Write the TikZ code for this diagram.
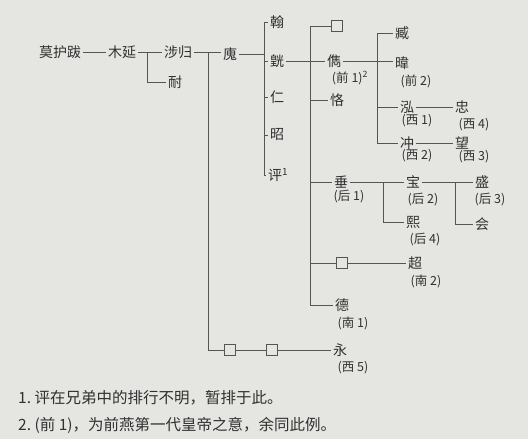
\documentclass[tikz,border=0pt]{standalone}
\usepackage{fontspec}
\setmainfont{Noto Sans CJK SC}
\definecolor{paper}{RGB}{229,229,226}
\definecolor{ink}{RGB}{48,48,48}
\definecolor{rule}{RGB}{85,85,85}
\begin{document}
\begin{tikzpicture}[x=1pt,y=-1pt,
    kin/.style={font=\fontsize{14}{14}\selectfont,text=ink,inner sep=1.5pt},
    reign/.style={font=\fontsize{12.5}{12.5}\selectfont,text=ink,inner sep=0pt},
    blank/.style={draw=rule,line width=0.7pt,minimum size=11pt,inner sep=0pt},
    link/.style={draw=rule,line width=0.7pt},
    foot/.style={font=\fontsize{15.5}{16}\selectfont,text=ink,anchor=west,inner sep=0pt}]
    \fill[paper] (0,0) rectangle (528,439);
    \useasboundingbox (0,0) rectangle (528,439);

    \node[kin] (mhb) at (60,52) {莫护跋};
    \node[kin] (muyan) at (122,52) {木延};
    \node[kin] (shegui) at (178,52) {涉归};
    \node[kin] (nai) at (175,82) {耐};
    \node[kin] (hui) at (230,54) {廆};
    \node[kin] (han) at (277,22) {翰};
    \node[kin] (huang) at (277,61) {皝};
    \node[kin] (ren) at (277,97) {仁};
    \node[kin] (zhao) at (277,135) {昭};
    \node[kin] (ping) at (278,175) {评\textsuperscript{1}};

    \node[blank] (b1) at (337,26) {};
    \node[kin] (jun) at (334,61) {儁};
    \node[reign] (junr) at (350,78) {(前 1)\textsuperscript{2}};
    \node[kin] (ke) at (337,100) {恪};
    \node[kin] (chui) at (341,182) {垂};
    \node[reign] (chuir) at (349,197) {(后 1)};
    \node[blank] (b2) at (342,263) {};
    \node[kin] (de) at (342,305) {德};
    \node[reign] (der) at (353,323) {(南 1)};

    \node[kin] (zang) at (402,33) {臧};
    \node[kin] (wei) at (402,63) {暐};
    \node[reign] (weir) at (416,81) {(前 2)};
    \node[kin] (hong) at (407,107) {泓};
    \node[reign] (hongr) at (417,121) {(西 1)};
    \node[kin] (chong) at (407,143) {冲};
    \node[reign] (chongr) at (417,156) {(西 2)};
    \node[kin] (zhong) at (462,107) {忠};
    \node[reign] (zhongr) at (474,125) {(西 4)};
    \node[kin] (wang) at (462,143) {望};
    \node[reign] (wangr) at (474,157) {(西 3)};

    \node[kin] (bao) at (413,182) {宝};
    \node[reign] (baor) at (423,200) {(后 2)};
    \node[kin] (xi) at (413,222) {熙};
    \node[reign] (xir) at (425,240) {(后 4)};
    \node[kin] (sheng) at (482,182) {盛};
    \node[reign] (shengr) at (490,200) {(后 3)};
    \node[kin] (hz) at (482,224) {会};
    \node[kin] (chao) at (415,263) {超};
    \node[reign] (chaor) at (426,281) {(南 2)};

    \node[blank] (b3) at (230,350) {};
    \node[blank] (b4) at (272,350) {};
    \node[kin] (yong) at (340,350) {永};
    \node[reign] (yongr) at (353,368) {(西 5)};

    \coordinate (v1) at (147,0);
    \coordinate (v2) at (208,0);
    \coordinate (v3) at (264,0);
    \coordinate (v4) at (310,0);
    \coordinate (v5) at (377,0);
    \coordinate (v6) at (383,0);
    \coordinate (v7) at (455,0);

    \draw[link] (mhb) -- (muyan);
    \draw[link] (muyan) -- (shegui);
    \draw[link] (v1 |- muyan) |- (nai);
    \draw[link] (shegui.east) -- (shegui.east -| hui.west);
    \draw[link] (v2 |- shegui) |- (b3);
    \draw[link] (b3) -- (b4);
    \draw[link] (b4) -- (yong);

    \draw[link] (hui) -- (v3 |- hui);
    \draw[link] (v3 |- han) -- (v3 |- ping);
    \draw[link] (v3 |- han) -- (han);
    \draw[link] (v3 |- huang) -- (huang);
    \draw[link] (v3 |- ren) -- (ren);
    \draw[link] (v3 |- zhao) -- (zhao);
    \draw[link] (v3 |- ping) -- (ping);

    \draw[link] (huang) -- (jun);
    \draw[link] (v4 |- b1) -- (v4 |- de);
    \draw[link] (v4 |- b1) -- (b1);
    \draw[link] (v4 |- ke) -- (ke);
    \draw[link] (v4 |- chui) -- (chui);
    \draw[link] (v4 |- b2) -- (b2);
    \draw[link] (v4 |- de) -- (de);

    \draw[link] (jun.east) -- (jun.east -| wei.west);
    \draw[link] (v5 |- zang) -- (v5 |- chong);
    \draw[link] (v5 |- zang) -- (zang);
    \draw[link] (v5 |- hong) -- (hong);
    \draw[link] (v5 |- chong) -- (chong);
    \draw[link] (hong) -- (zhong);
    \draw[link] (chong) -- (wang);

    \draw[link] (chui) -- (bao);
    \draw[link] (v6 |- bao) |- (xi);
    \draw[link] (bao) -- (sheng);
    \draw[link] (v7 |- sheng) |- (hz);
    \draw[link] (b2) -- (chao);

    \node[foot] (n1) at (18,398) {1.\ 评在兄弟中的排行不明，暂排于此。};
    \node[foot] (n2) at (18,425) {2.\ (前 1)，为前燕第一代皇帝之意，余同此例。};
\end{tikzpicture}
\end{document}
